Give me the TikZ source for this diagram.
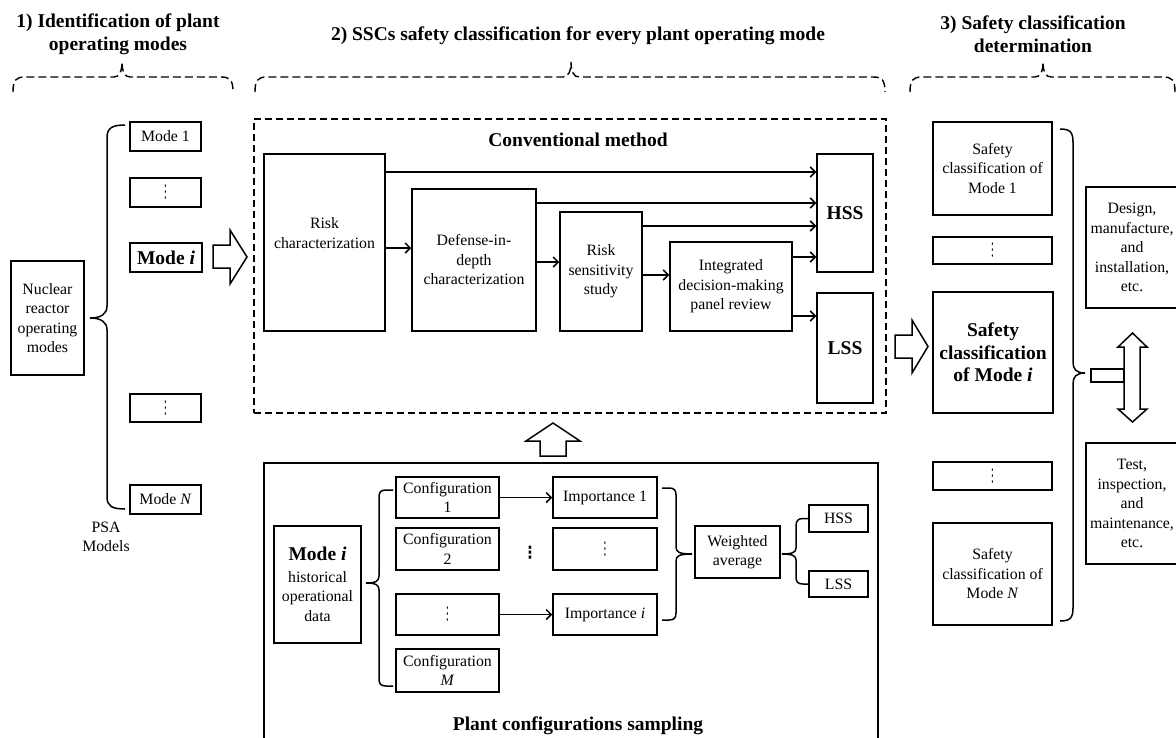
\documentclass[tikz,border=0pt]{standalone}
\usepackage{fontspec}
\usepackage{graphicx}
\setmainfont{Liberation Serif}
\newfontfamily\dejavu{DejaVu Sans}
\usetikzlibrary{arrows.meta,calc}

% vertical ellipsis glyph, stretched a little
\newcommand\vd{\scalebox{0.9}[1.45]{\dejavu\fontsize{12}{12}\selectfont ⋮}}
\newcommand\vdb{\scalebox{1.2}[1.4]{\dejavu\bfseries\fontsize{12}{12}\selectfont ⋮}}

\tikzset{
  base/.style={font=\fontsize{15.8}{19.5}\selectfont},
  bigbold/.style={font=\fontsize{19.5}{22.5}\selectfont\bfseries},
  box/.style={draw, line width=1.5pt, inner sep=1pt, align=center, base},
  sz/.style 2 args={minimum width=#1pt, minimum height=#2pt},
  hdr/.style={font=\fontsize{19.5}{23.4}\selectfont\bfseries, align=center},
  arr/.style={line width=1.5pt, -{Straight Barb[length=5pt,width=10pt]}},
  brace/.style={line width=1.5pt},
  hbrace/.style={line width=1.4pt, dash pattern=on 8pt off 4pt},
  hollow/.style={draw, line width=1.5pt, fill=white, line join=miter},
}

% dashed header brace: left end, tip, right end
\newcommand\hbr[3]{%
  \draw[hbrace] (#1,92) .. controls (#1,80) and (#1+3,77) .. (#1+12,77) -- (#2-8,77)
    .. controls (#2-3,77) and (#2,72) .. (#2,62)
    .. controls (#2,72) and (#2+3,77) .. (#2+8,77) -- (#3-12,77)
    .. controls (#3-3,77) and (#3,80) .. (#3,92);}

\begin{document}
\begin{tikzpicture}[x=1pt,y=-1pt]
\useasboundingbox (0,0) rectangle (1176,737);
\fill[white] (0,0) rectangle (1176,737);
\clip (0,0) rectangle (1176,737);

% ---------- headers ----------
\node[hdr] (h1) at (118,34) {1) Identification of plant\\operating modes};
\node[hdr] (h2) at (578,36) {2) SSCs safety classification for every plant operating mode};
\node[hdr] (h3) at (1033,34) {3) Safety classification\\determination};
\hbr{13}{122}{233}
\hbr{255}{571}{885}
\hbr{910}{1043}{1175}

% ---------- 1) operating modes ----------
\node[box, sz={73}{114}] (nuc) at (47.5,318) {Nuclear\\reactor\\operating\\modes};
\node[box, sz={71}{29}] (m1) at (165.5,136.5) {Mode 1};
\node[box, sz={71}{29}] (md1) at (165.5,192.5) {\vd};
\node[box, sz={72}{29}, bigbold] (mi) at (166,257.5) {Mode \textit{i}};
\node[box, sz={71}{28}] (md2) at (165.5,408) {\vd};
\node[box, sz={71}{29}] (mN) at (165.5,499.5) {Mode \textit{N}};
\node[base, align=center] (psa) at (106,537) {PSA\\Models};

\draw[brace] (125,125) .. controls (112,125) and (107,128) .. (107,138) -- (107,306)
  .. controls (107,314) and (101,318) .. (90,318)
  .. controls (101,318) and (107,322) .. (107,330) -- (107,497)
  .. controls (107,506) and (112,509) .. (125,509);

\draw[hollow] (213,245) -- (230,245) -- (230,230) -- (247,257) -- (230,284) -- (230,268) -- (213,268) -- cycle;

% ---------- 2) conventional method ----------
\node[draw, line width=1.4pt, dash pattern=on 7pt off 4pt, minimum width=632pt, minimum height=294pt, inner sep=0pt] (conv) at (570,266) {};
\node[hdr] (convt) at (578,140) {Conventional method};

\node[box, sz={121}{177}] (rc) at (324.5,242.5) {Risk\\characterization\\[-1pt]};
\node[box, sz={124}{142}] (dd) at (474,260) {Defense-in-\\depth\\characterization};
\node[box, sz={82}{119}] (rs) at (601,271.5) {Risk\\sensitivity\\study};
\node[box, sz={122}{89}] (idm) at (731,286.5) {Integrated\\decision-making\\panel review};
\node[box, sz={56}{118}, bigbold] (hss) at (845,213) {HSS};
\node[box, sz={56}{110}, bigbold] (lss) at (845,348) {LSS};

\draw[arr] (rc.east |- 0,172) -- (hss.west |- 0,172);
\draw[arr] (dd.east |- 0,203) -- (hss.west |- 0,203);
\draw[arr] (rs.east |- 0,226) -- (hss.west |- 0,226);
\draw[arr] (idm.east |- 0,257) -- (hss.west |- 0,257);
\draw[arr] (idm.east |- 0,316) -- (lss.west |- 0,316);
\draw[arr] (rc.east |- 0,248) -- (dd.west |- 0,248);
\draw[arr] (dd.east |- 0,262) -- (rs.west |- 0,262);
\draw[arr] (rs.east |- 0,275) -- (idm.west |- 0,275);

\draw[hollow] (895,335) -- (912,335) -- (912,320) -- (928,346.5) -- (912,373) -- (912,358) -- (895,358) -- cycle;
\draw[hollow] (540,456) -- (540,441) -- (526,441) -- (553,423) -- (580,441) -- (566,441) -- (566,456) -- cycle;

% ---------- plant configurations sampling ----------
\draw[line width=1.5pt] (264,760) -- (264,463) -- (878,463) -- (878,760);
\node[hdr] (pcs) at (578,726) {Plant configurations sampling};

\node[box, sz={87}{117}] (mih) at (317.5,584.5) {{\fontsize{19.5}{22}\selectfont\bfseries Mode \textit{i}}\\[2pt]historical\\operational\\data};

\node[box, sz={103}{41}] (c1) at (447.5,497.5) {Configuration\\1};
\node[box, sz={103}{42}] (c2) at (447.5,549) {Configuration\\2};
\node[box, sz={103}{41}] (cd) at (447.5,614.5) {\vd};
\node[box, sz={103}{43}] (cM) at (447.5,670.5) {Configuration\\\textit{M}};

\node[inner sep=0pt] (dots) at (530,553) {\vdb};

\node[box, sz={104}{41}] (i1) at (605,497.5) {Importance 1};
\node[box, sz={104}{42}] (id) at (605,549) {\vd};
\node[box, sz={104}{41}] (ii) at (605,614.5) {Importance \textit{i}};

\draw[arr] (c1) -- (i1);
\draw[arr] (cd) -- (ii);

\draw[brace] (393,490) -- (386,490) .. controls (381,490) and (379,492) .. (379,497) -- (379,576)
  .. controls (379,581) and (376,583) .. (366,583)
  .. controls (376,583) and (379,585) .. (379,590) -- (379,679)
  .. controls (379,684) and (381,686) .. (386,686) -- (393,686);

\node[box, sz={85}{52}] (wa) at (737.5,552) {Weighted\\average};

\draw[brace] (662,488) -- (669,488) .. controls (674,488) and (676,490) .. (676,495) -- (676,547)
  .. controls (676,552) and (679,554) .. (692,554)
  .. controls (679,554) and (676,556) .. (676,561) -- (676,613)
  .. controls (676,618) and (674,620) .. (669,620) -- (662,620);

\node[box, sz={59}{27}] (hs) at (838.5,518.5) {HSS};
\node[box, sz={59}{26}] (ls) at (838.5,584) {LSS};

\draw[brace] (hs.west) -- (803,518.5) .. controls (798,518.5) and (796,521) .. (796,526) -- (796,548)
  .. controls (796,552) and (793,554) .. (782,554)
  .. controls (793,554) and (796,556) .. (796,560) -- (796,577)
  .. controls (796,582) and (798,584) .. (803,584) -- (ls.west);

% ---------- 3) safety classification determination ----------
\node[box, sz={119}{93}] (s1) at (992.5,168.5) {Safety\\classification of\\Mode 1};
\node[box, sz={119}{27}] (sd1) at (992.5,250.5) {\vd};
\node[box, sz={120}{121}, bigbold] (si) at (993,352.5) {Safety\\classification\\of Mode \textit{i}};
\node[box, sz={119}{28}] (sd2) at (992.5,476) {\vd};
\node[box, sz={119}{102}] (sN) at (992.5,574) {Safety\\classification of\\Mode \textit{N}};

\draw[brace] (1060,129) .. controls (1070,129) and (1073,132) .. (1073,142) -- (1073,362)
  .. controls (1073,369) and (1076,373) .. (1085,373)
  .. controls (1076,373) and (1073,377) .. (1073,384) -- (1073,608)
  .. controls (1073,618) and (1070,621) .. (1060,621);

\node[draw, line width=1.5pt, minimum width=33pt, minimum height=13pt, inner sep=0pt] (tee) at (1107.5,375.5) {};

\draw[hollow] (1124,347) -- (1118,347) -- (1132.5,333) -- (1147,347) -- (1140,347) -- (1140,409)
  -- (1147,409) -- (1132.5,422) -- (1118,409) -- (1124,409) -- cycle;

\node[box, sz={92}{121}] (des) at (1132,247.5) {Design,\\manufacture,\\and\\installation,\\etc.};
\node[box, sz={92}{121}] (tst) at (1132,503.5) {Test,\\inspection,\\and\\maintenance,\\etc.};
\end{tikzpicture}
\end{document}
